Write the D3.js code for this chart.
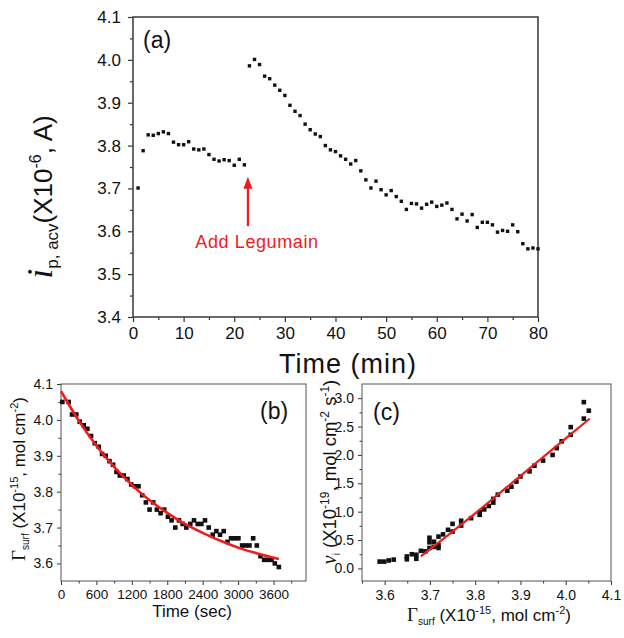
<!DOCTYPE html>
<html><head><meta charset="utf-8">
<script src="https://cdn.jsdelivr.net/npm/d3@7"></script>
<style>
body{margin:0;background:#fff}
svg text{font-family:"Liberation Sans",Arial,sans-serif;fill:#111}
</style>
</head><body>
<svg id="fig" width="624" height="638"></svg>
<script>
// ---------- Panel (a) data ----------
const aTime = [1,2,3,4,5,6,7,8,9,10,11,12,13,14,15,16,17,18,19,20,21,22,
  23,24,25,26,27,28,29,30,31,32,33,34,35,36,37,38,39,40,41,42,43,44,45,46,47,48,49,50,
  51,52,53,54,55,56,57,58,59,60,61,62,63,64,65,66,67,68,69,70,71,72,73,74,75,76,77,78,79,80];
const aCurrent = [3.701,3.788,3.825,3.824,3.828,3.832,3.828,3.808,3.802,3.802,3.809,3.792,3.790,3.792,3.779,3.768,3.764,3.767,3.765,3.754,3.768,3.755,
  3.986,4.001,3.989,3.962,3.956,3.941,3.929,3.917,3.894,3.880,3.870,3.850,3.837,3.827,3.821,3.800,3.790,3.786,3.776,3.768,3.757,3.765,3.741,3.720,3.701,3.717,3.697,3.685,
  3.695,3.681,3.670,3.651,3.665,3.664,3.654,3.663,3.668,3.658,3.661,3.666,3.651,3.629,3.640,3.624,3.639,3.609,3.621,3.621,3.615,3.598,3.602,3.600,3.615,3.599,3.571,3.559,3.561,3.559];
const aXTicks = [0,10,20,30,40,50,60,70,80];
const aYTicks = [3.4,3.5,3.6,3.7,3.8,3.9,4.0,4.1];
const aArrowTime = 22.7;
const aArrowFrom = 3.612, aArrowTo = 3.727;
const aNote = "Add Legumain";

// ---------- Panel (b) data ----------
const bTime = [23,130,187,260,317,385,447,509,572,640,696,758,821,883,940,996,1064,1126,1189,1251,1313,1375,1438,1500,1562,1624,1687,1749,1811,1873,1936,1998,2060,2123,2190,2253,2315,2377,2439,2502,2570,2632,2694,2756,2819,2881,2943,3005,3068,3130,3192,3255,3317,3379,3441,3504,3566,3622,3690];
const bGamma = [4.05,4.05,4.015,4.015,3.995,3.985,3.975,3.955,3.935,3.925,3.905,3.90,3.885,3.875,3.855,3.845,3.845,3.835,3.82,3.815,3.815,3.79,3.77,3.75,3.77,3.75,3.74,3.75,3.73,3.72,3.70,3.72,3.71,3.70,3.71,3.72,3.71,3.71,3.72,3.70,3.68,3.69,3.68,3.69,3.66,3.67,3.67,3.67,3.65,3.65,3.65,3.67,3.65,3.62,3.61,3.61,3.61,3.60,3.59];
const bFitTime = [0,300,600,900,1200,1500,1800,2100,2400,2700,3000,3300,3690];
const bFitGamma = [4.080,3.998,3.928,3.869,3.819,3.776,3.741,3.710,3.685,3.663,3.644,3.629,3.612];
const bXTicks = [0,600,1200,1800,2400,3000,3600];
const bYTicks = [3.6,3.7,3.8,3.9,4.0,4.1];

// ---------- Panel (c) data ----------
const cGamma = [3.589,3.599,3.609,3.620,3.649,3.649,3.660,3.670,3.670,3.680,3.690,3.699,3.699,3.699,3.709,3.709,3.719,3.719,3.719,3.729,3.740,3.750,3.750,3.769,3.769,3.791,3.810,3.810,3.820,3.830,3.840,3.840,3.850,3.871,3.880,3.891,3.900,3.920,3.931,3.950,3.971,3.980,3.991,4.011,4.011,4.040,4.040,4.051];
const cRate = [0.12,0.12,0.14,0.155,0.16,0.21,0.25,0.17,0.24,0.31,0.30,0.36,0.46,0.54,0.47,0.38,0.36,0.41,0.56,0.60,0.68,0.65,0.785,0.755,0.84,0.885,0.944,0.99,1.04,1.10,1.16,1.225,1.30,1.37,1.44,1.53,1.62,1.71,1.81,1.90,2.00,2.12,2.24,2.355,2.49,2.64,2.93,2.78];
const cFitGamma = [3.68,3.75,3.80,3.85,3.90,3.95,4.00,4.053];
const cFitRate = [0.21,0.65,0.97,1.30,1.63,1.96,2.29,2.64];
const cXTicks = [3.6,3.7,3.8,3.9,4.0,4.1];
const cYTicks = [0.0,0.5,1.0,1.5,2.0,2.5,3.0];

const RED = "#ee1c1c";
const svg = d3.select("#fig");

function minorsBetween(ticks, n) {
  const out = [];
  for (let i = 0; i < ticks.length - 1; i++) {
    const step = (ticks[i+1] - ticks[i]) / n;
    for (let k = 1; k < n; k++) out.push(ticks[i] + k * step);
  }
  return out;
}

function drawAxes(x, y, o) {
  const g = svg.append("g");
  const [x0, x1] = x.range(), [y0, y1] = y.range();
  const la = g.append("g").attr("transform", `translate(${x0},0)`)
    .call(d3.axisLeft(y).tickValues(o.yTicks).tickSize(o.major).tickSizeOuter(0)
      .tickPadding(o.yPad).tickFormat(o.yFmt));
  la.select(".domain").remove();
  la.selectAll("text").attr("font-size", o.fs).attr("fill", "#111");
  const lm = g.append("g").attr("transform", `translate(${x0},0)`)
    .call(d3.axisLeft(y).tickValues(o.yMinor).tickSize(o.minor).tickSizeOuter(0).tickFormat(""));
  lm.select(".domain").remove();
  const ba = g.append("g").attr("transform", `translate(0,${y0})`)
    .call(d3.axisBottom(x).tickValues(o.xTicks).tickSize(o.major).tickSizeOuter(0)
      .tickPadding(o.xPad).tickFormat(o.xFmt));
  ba.select(".domain").remove();
  ba.selectAll("text").attr("font-size", o.xfs || o.fs).attr("fill", "#111");
  const bm = g.append("g").attr("transform", `translate(0,${y0})`)
    .call(d3.axisBottom(x).tickValues(o.xMinor).tickSize(o.minor).tickSizeOuter(0).tickFormat(""));
  bm.select(".domain").remove();
  g.selectAll(".tick line").attr("stroke", "#333").attr("stroke-width", o.tw);
  g.selectAll("text").attr("font-family", '"Liberation Sans",Arial,sans-serif');
  g.append("rect").attr("x", x0).attr("y", y1).attr("width", x1 - x0).attr("height", y0 - y1)
    .attr("fill", "none").attr("stroke", o.frame || "#333").attr("stroke-width", o.sw);
  return g;
}

function rich(parent, parts, attrs) {
  const t = parent.append("text");
  Object.entries(attrs).forEach(([k, v]) => t.attr(k, v));
  let shift = 0;
  parts.forEach(p => {
    const ts = t.append("tspan").text(p.t).attr("font-size", p.s);
    const target = p.dy || 0;
    ts.attr("dy", target - shift);
    shift = target;
    if (p.f) ts.attr("font-family", p.f);
    if (p.i) ts.attr("font-style", "italic");
  });
  return t;
}

// ================= Panel (a) =================
const ax = d3.scaleLinear().domain([0, 80]).range([133, 538]);
const ay = d3.scaleLinear().domain([3.4, 4.1]).range([317, 17]);
drawAxes(ax, ay, {
  yTicks: aYTicks, yMinor: minorsBetween(aYTicks, 2), xTicks: aXTicks, xMinor: minorsBetween(aXTicks, 2),
  major: 5, minor: 3, yPad: 7, xPad: 5, fs: 17, tw: 1.2, sw: 1.6, frame: "#444",
  yFmt: d3.format(".1f"), xFmt: d3.format("d")
});
const asz = 3.4;
svg.append("g").selectAll("rect").data(aTime).join("rect")
  .attr("x", d => ax(d) - asz/2).attr("y", (d, i) => ay(aCurrent[i]) - asz/2)
  .attr("width", asz).attr("height", asz).attr("fill", "#111");
const arrX = ax(aArrowTime);
svg.append("line").attr("x1", arrX).attr("x2", arrX).attr("y1", ay(aArrowFrom)).attr("y2", ay(aArrowTo) + 8)
  .attr("stroke", RED).attr("stroke-width", 2.2);
svg.append("path")
  .attr("d", `M${arrX},${ay(aArrowTo)} L${arrX-4.5},${ay(aArrowTo)+12} L${arrX+4.5},${ay(aArrowTo)+12} Z`)
  .attr("fill", RED);
svg.append("text").attr("x", 257).attr("y", 248).attr("text-anchor", "middle")
  .attr("font-size", 18).attr("letter-spacing", 0.6).style("fill", RED).text(aNote);
svg.append("text").attr("x", 143).attr("y", 48).attr("font-size", 23).text("(a)");
svg.append("text").attr("x", 348).attr("y", 373).attr("text-anchor", "middle")
  .attr("font-size", 27).attr("letter-spacing", 1).text("Time (min)");
const aLab = svg.append("g").attr("transform", "translate(52,197) rotate(-90)");
rich(aLab, [
  {t: "i", s: 36, f: '"Liberation Serif",serif', i: true},
  {t: "p, acv", s: 17, dy: 6},
  {t: "(X10", s: 26, dy: 0},
  {t: "-6", s: 16, dy: -11},
  {t: ", A)", s: 26, dy: 0}
], {"text-anchor": "middle", x: 0, y: 0});

// ================= Panel (b) =================
const bx = d3.scaleLinear().domain([0, 4150]).range([61, 306]);
const by = d3.scaleLinear().domain([3.551, 4.1]).range([581, 384]);
drawAxes(bx, by, {
  yTicks: bYTicks, yMinor: minorsBetween(bYTicks, 2), xTicks: bXTicks, xMinor: minorsBetween(bXTicks.concat([4200]), 2).filter(v => v < 4150),
  major: 4, minor: 2.5, yPad: 4, xPad: 4, fs: 14, xfs: 13.5, tw: 1, sw: 1, frame: "#555",
  yFmt: d3.format(".1f"), xFmt: d3.format("d")
});
const bsz = 4.6;
svg.append("g").selectAll("rect").data(bTime).join("rect")
  .attr("x", d => bx(d) - bsz/2).attr("y", (d, i) => by(bGamma[i]) - bsz/2)
  .attr("width", bsz).attr("height", bsz).attr("fill", "#111");
svg.append("path").datum(bFitTime)
  .attr("d", d3.line().x(d => bx(d)).y((d, i) => by(bFitGamma[i])).curve(d3.curveMonotoneX))
  .attr("fill", "none").attr("stroke", RED).attr("stroke-width", 2.6);
svg.append("text").attr("x", 260).attr("y", 419).attr("font-size", 23).text("(b)");
svg.append("text").attr("x", 192).attr("y", 617).attr("text-anchor", "middle").attr("font-size", 17).text("Time (sec)");
const bLab = svg.append("g").attr("transform", "translate(25,479) rotate(-90)");
rich(bLab, [
  {t: "Γ", s: 19, f: '"Liberation Serif",serif'},
  {t: "surf", s: 10, dy: 4},
  {t: " (X10", s: 17, dy: 0},
  {t: "-15", s: 11, dy: -7},
  {t: ", mol cm", s: 17, dy: 0},
  {t: "-2", s: 11, dy: -7},
  {t: ")", s: 17, dy: 0}
], {"text-anchor": "middle", x: 0, y: 0});

// ================= Panel (c) =================
const cx = d3.scaleLinear().domain([3.55, 4.1]).range([362, 611]);
const cy = d3.scaleLinear().domain([-0.222, 3.25]).range([581, 384]);
drawAxes(cx, cy, {
  yTicks: cYTicks, yMinor: minorsBetween(cYTicks, 2), xTicks: cXTicks, xMinor: [3.55].concat(minorsBetween(cXTicks, 2)),
  major: 4, minor: 2.5, yPad: 4, xPad: 5, fs: 14, tw: 1, sw: 1, frame: "#555",
  yFmt: d3.format(".1f"), xFmt: d3.format(".1f")
});
svg.append("g").selectAll("rect").data(cGamma).join("rect")
  .attr("x", d => cx(d) - bsz/2).attr("y", (d, i) => cy(cRate[i]) - bsz/2)
  .attr("width", bsz).attr("height", bsz).attr("fill", "#111");
svg.append("path").datum(cFitGamma)
  .attr("d", d3.line().x(d => cx(d)).y((d, i) => cy(cFitRate[i])).curve(d3.curveMonotoneX))
  .attr("fill", "none").attr("stroke", RED).attr("stroke-width", 2.2);
svg.append("text").attr("x", 373).attr("y", 420).attr("font-size", 23).text("(c)");
rich(svg, [
  {t: "Γ", s: 19, f: '"Liberation Serif",serif'},
  {t: "surf", s: 10, dy: 4},
  {t: " (X10", s: 17, dy: 0},
  {t: "-15", s: 11, dy: -7},
  {t: ", mol cm", s: 17, dy: 0},
  {t: "-2", s: 11, dy: -7},
  {t: ")", s: 17, dy: 0}
], {"text-anchor": "middle", x: 489, y: 621});
const cLab = svg.append("g").attr("transform", "translate(336,472) rotate(-90)");
rich(cLab, [
  {t: "ν", s: 20, f: '"Liberation Serif",serif', i: true},
  {t: "i", s: 10, dy: 4},
  {t: " (X10", s: 18.5, dy: 0},
  {t: "-19", s: 12, dy: -7},
  {t: ", mol cm", s: 18.5, dy: 0},
  {t: "-2", s: 12, dy: -7},
  {t: " s", s: 18.5, dy: 0},
  {t: "-1", s: 12, dy: -7},
  {t: ")", s: 18.5, dy: 0}
], {"text-anchor": "middle", x: 0, y: 0});
</script>
</body></html>
